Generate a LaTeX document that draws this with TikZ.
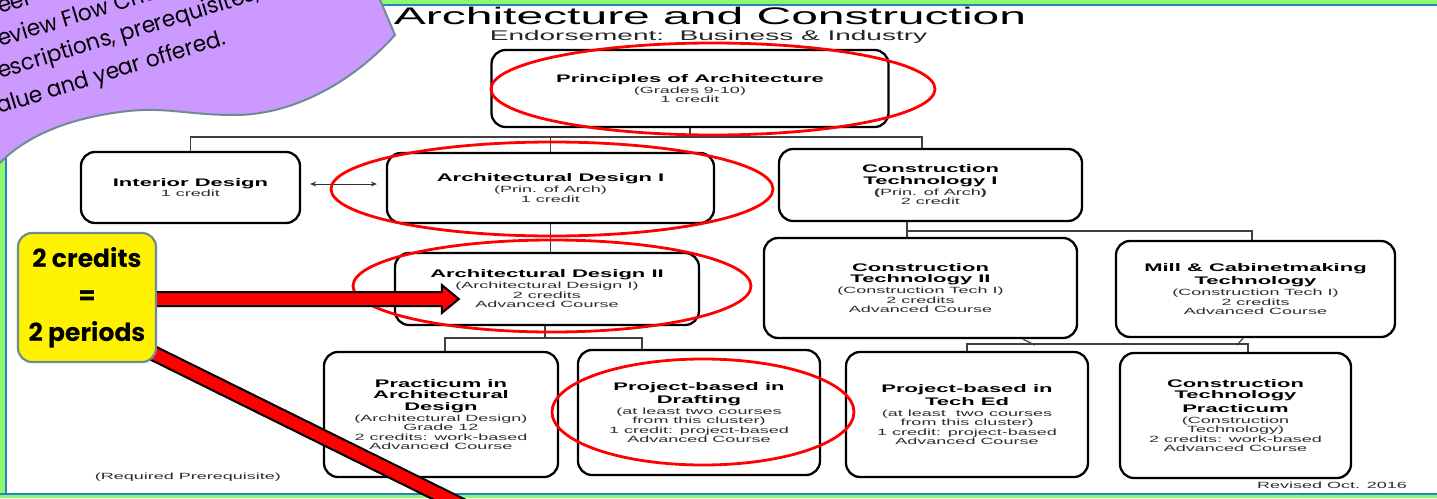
\documentclass[tikz,border=0pt]{standalone}
\usepackage{fontspec}
\setmainfont{Liberation Sans}
\newfontfamily\chart[FakeStretch=2.0]{Liberation Sans}
\newfontfamily\pfont{Poppins}
\newfontfamily\pfontn[FakeStretch=0.96]{Poppins}
\usetikzlibrary{arrows.meta,calc}
\definecolor{bordergreen}{RGB}{140,250,105}
\definecolor{borderblue}{RGB}{40,130,200}
\definecolor{lav}{RGB}{204,153,255}
\definecolor{calloutline}{RGB}{110,140,148}
\definecolor{txtgray}{RGB}{45,45,45}
\newcommand{\hdl}[1]{{\fontsize{11}{12}\selectfont\bfseries\color{black}#1}}
\pgfdeclarelayer{front}
\pgfsetlayers{main,front}
\begin{document}
\begin{tikzpicture}[x=1pt,y=-1pt,
  course/.style={draw=black, line width=2.3pt, rounded corners=14pt, inner sep=0pt,
    align=center, font=\chart\fontsize{9}{9.5}\selectfont, text=txtgray},
  link/.style={draw=black!75, line width=1.2pt},
  ring/.style={draw=red, line width=2.8pt},
  bigarrow/.style={fill=red, draw=black, line width=2pt, line join=miter},
  note/.style={font=\chart\fontsize{9}{10}\selectfont, text=txtgray, inner sep=0pt}]
\useasboundingbox (0,0) rectangle (1437,498);
\clip (0,0) rectangle (1437,498);
\fill[white] (0,0) rectangle (1437,498);
% frame
\fill[bordergreen] (0,0) rectangle (1437,4);
\fill[borderblue] (0,4) rectangle (1437,5.8);
\fill[bordergreen] (0,0) rectangle (4.6,498);
\fill[borderblue] (4.6,0) rectangle (7.4,498);
\fill[borderblue] (0,492.8) rectangle (1437,495.4);
\fill[bordergreen] (0,495.4) rectangle (1437,498);
% titles
\node[font=\chart\fontsize{24}{26}\selectfont, anchor=base, inner sep=0pt] (title) at (710,24.5) {Architecture and Construction};
\node[font=\chart\fontsize{14}{16}\selectfont, anchor=base, text=black!85, inner sep=0pt] (sub) at (708.5,40) {Endorsement:\ \ Business \& Industry};
% boxes
\node[course, minimum width=397pt, minimum height=77pt] (p) at (690,88.5) {\hdl{Principles of Architecture}\\[1.5pt](Grades 9-10)\\1 credit};
\node[course, minimum width=219pt, minimum height=71pt] (int) at (190.5,187.5) {\hdl{Interior Design}\\[0.5pt]1 credit};
\node[course, minimum width=327pt, minimum height=70pt] (adi) at (550.5,188) {\hdl{Architectural Design I}\\[1.5pt](Prin. of Arch)\\1 credit};
\node[course, minimum width=303pt, minimum height=72pt] (ct1) at (930.5,185) {\hdl{Construction}\\[2pt]\hdl{Technology I}\\[1.5pt]\textbf{(}Prin. of Arch\textbf{)}\\2 credit};
\node[course, minimum width=304pt, minimum height=72pt] (adii) at (547,289) {\hdl{Architectural Design II}\\[1.5pt](Architectural Design I)\\2 credits\\Advanced Course};
\node[course, minimum width=313pt, minimum height=100pt] (ct2) at (920.5,288) {\hdl{Construction}\\[2pt]\hdl{Technology II}\\[1.5pt](Construction Tech I)\\2 credits\\Advanced Course};
\node[course, minimum width=279pt, minimum height=96pt] (mill) at (1255.5,289) {\hdl{Mill \& Cabinetmaking}\\[2pt]\hdl{Technology}\\[1.5pt](Construction Tech I)\\2 credits\\Advanced Course};
\node[course, minimum width=234pt, minimum height=125pt] (prac) at (441,414.5) {\hdl{Practicum in}\\[2pt]\hdl{Architectural}\\[2pt]\hdl{Design}\\[1.5pt](Architectural Design)\\Grade 12\\2 credits: work-based\\Advanced Course};
\node[course, minimum width=242pt, minimum height=125pt] (draft) at (699,412.5) {\hdl{Project-based in}\\[2pt]\hdl{Drafting}\\[1.5pt](at least two courses\\from this cluster)\\1 credit: project-based\\Advanced Course};
\node[course, minimum width=242pt, minimum height=125pt] (teched) at (967,414.5) {\hdl{Project-based in}\\[2pt]\hdl{Tech Ed}\\[1.5pt](at least\ \ two courses\\from this cluster)\\1 credit: project-based\\Advanced Course};
\node[course, minimum width=231pt, minimum height=125pt] (ctp) at (1235.5,415.5) {\hdl{Construction}\\[2pt]\hdl{Technology}\\[2pt]\hdl{Practicum}\\[1.5pt](Construction\\Technology)\\2 credits: work-based\\Advanced Course};
% notes
\node[note, anchor=base] (req) at (188,479) {(Required Prerequisite)};
\node[note, anchor=base east] (rev) at (1407,488) {Revised Oct. 2016};
% connectors
\coordinate (bus1) at (0,137);
\coordinate (ct1in) at ($(ct1.north)+(-8.5,0)$);
\draw[link] (p.south) -- (p.south |- bus1);
\draw[link] (int.north) -- (int.north |- bus1) -- (ct1in |- bus1) -- (ct1in);
\draw[link] (adi.north) -- (adi.north |- bus1);
\draw[link] (adi.south) -- (adi.south |- adii.north);
\coordinate (bus2) at (0,338);
\coordinate (adiiout) at ($(adii.south)+(-2,0)$);
\coordinate (pracin) at ($(prac.north)+(4,0)$);
\coordinate (draftin) at ($(draft.north)+(-57,0)$);
\draw[link] (adiiout) -- (adiiout |- bus2);
\draw[link] (pracin) -- (pracin |- bus2) -- (draftin |- bus2) -- (draftin);
\coordinate (bus3) at (0,231);
\coordinate (ct1out) at ($(ct1.south)+(-23.5,0)$);
\coordinate (millin) at ($(mill.north)+(-3.5,0)$);
\draw[link] (ct1out) -- (ct1out |- ct2.north);
\draw[link] (ct1out |- bus3) -- (millin |- bus3) -- (millin);
\coordinate (bus4) at (0,344);
\coordinate (ct2tap) at ($(ct2.south)+(102.5,0)$);
\coordinate (milltap) at ($(mill.south)+(-12.5,0)$);
\coordinate (ctpin) at ($(ctp.north)+(12.5,0)$);
\draw[link] (ct2tap) -- ++(12,6);
\draw[link] (milltap) -- ++(-6,7);
\draw[link] (teched.north) -- (teched.north |- bus4) -- (ctpin |- bus4) -- (ctpin);
\draw[black!80, line width=1pt, {Stealth[length=6pt,width=5pt]}-{Stealth[length=6pt,width=5pt]}] ($(int.east)+(9,-3.5)$) -- ($(adi.west)+(-9,-4)$);
% red rings
\draw[ring] (713,89) ellipse [x radius=222, y radius=46];
\draw[ring] (552,189) ellipse [x radius=221, y radius=47];
\draw[ring] (552,286) ellipse [x radius=199, y radius=46];
\draw[ring] (703,412) ellipse [x radius=151, y radius=53];
% purple callout
\filldraw[fill=lav, draw=calloutline, line width=2pt] (-5,-5) -- (378,-5) -- (395,35) .. controls (350,85) and (290,115) .. (235,115) .. controls (185,115) and (165,106) .. (120,112) .. controls (60,120) and (20,140) .. (-5,168) -- cycle;
\begin{scope}[every node/.style={font=\pfontn\fontsize{22.5}{24}\selectfont, rotate=17, anchor=base west, inner sep=0pt}]
\node (pl1) at (0,14) {eer C};
\node (pl2) at (0,47) {eview Flow Chart};
\node (pl3) at (0,79) {escriptions, prerequisites, cre};
\node (pl4) at (-1,114) {alue and year offered.};
\end{scope}
% yellow note
\begin{pgfonlayer}{front}
\node[draw=calloutline, fill=yellow, line width=2.2pt, rounded corners=14pt, minimum width=138pt, minimum height=129pt, inner sep=0pt, align=center, font=\pfont\bfseries\fontsize{25}{37}\selectfont] (yb) at (87,297.5) {2 credits\\=\\2 periods};
\end{pgfonlayer}
% red arrows
\coordinate (htip) at ($(adii.west)+(65,10)$);
\filldraw[bigarrow] ($(yb.east)+(-2,-5.5)$) -- ($(htip)+(-17,-7)$) -- ($(htip)+(-17,-14)$) -- (htip) -- ($(htip)+(-17,14)$) -- ($(htip)+(-17,7)$) -- ($(yb.east)+(-2,8.5)$) -- cycle;
\coordinate (dstart) at ($(yb.south east)+(-4,-10)$);
\filldraw[bigarrow] ($(dstart)+(3.1,-6.3)$) -- ($(dstart)+(630.3,303.8)$) -- ($(dstart)+(624.1,316.4)$) -- ($(dstart)+(-3.1,6.3)$) -- cycle;
\end{tikzpicture}
\end{document}
